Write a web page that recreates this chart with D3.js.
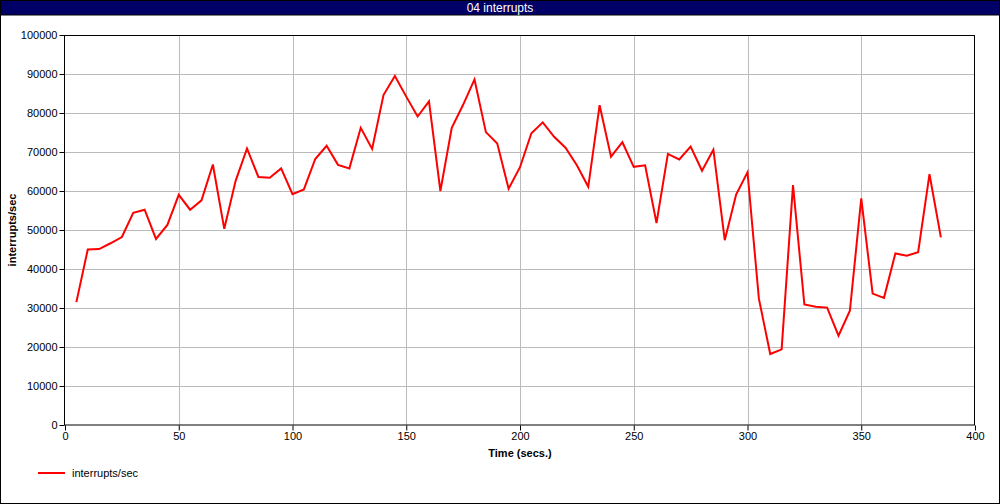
<!DOCTYPE html>
<html><head><meta charset="utf-8">
<script src="https://cdn.jsdelivr.net/npm/d3@7"></script>
<style>
html,body{margin:0;padding:0;background:#fff;}
svg{display:block;}
text{font-family:"Liberation Sans",Arial,Helvetica,sans-serif;}
</style></head><body>
<script>
const title = "04 interrupts";
const seriesName = "interrupts/sec";
const xLabel = "Time (secs.)";
const yLabel = "interrupts/sec";
const times = [5,10,15,20,25,30,35,40,45,50,55,60,65,70,75,80,85,90,95,100,105,110,115,120,125,130,135,140,145,150,155,160,165,170,175,180,185,190,195,200,205,210,215,220,225,230,235,240,245,250,255,260,265,270,275,280,285,290,295,300,305,310,315,320,325,330,335,340,345,350,355,360,365,370,375,380,385];
const values = [31500,45000,45100,46600,48200,54400,55200,47700,51300,59000,55200,57600,66800,50300,62600,70900,63600,63400,65800,59200,60400,68200,71600,66700,65800,76200,70800,84600,89500,84200,79100,83000,60000,76200,82100,88600,75100,72200,60600,66100,74800,77600,73900,71100,66600,61100,82000,68800,72500,66200,66600,51800,69500,68100,71400,65200,70600,47400,59100,64800,32400,18200,19400,61500,30900,30300,30100,22900,29300,58100,33700,32600,44000,43400,44300,64300,48100];
const xTicks = [0,50,100,150,200,250,300,350,400];
const yTicks = [0,10000,20000,30000,40000,50000,60000,70000,80000,90000,100000];

const W=1000,H=504;
const svg=d3.select("body").append("svg").attr("width",W).attr("height",H);
svg.append("rect").attr("x",0.5).attr("y",0.5).attr("width",W-1).attr("height",H-1).attr("fill","#fff").attr("stroke","#000");
svg.append("rect").attr("x",0.5).attr("y",0.5).attr("width",W-1).attr("height",14.5).attr("fill","#000066").attr("stroke","#000");
svg.append("text").attr("x",500).attr("y",12).attr("text-anchor","middle").attr("fill","#fff").attr("font-size",12).text(title);

const x=d3.scaleLinear().domain([0,400]).range([65,975]);
const y=d3.scaleLinear().domain([0,100000]).range([425,35]);

const g=svg.append("g");
// grid
g.selectAll(".vg").data(xTicks.slice(1,-1)).enter().append("line")
 .attr("x1",d=>Math.round(x(d))+0.5).attr("x2",d=>Math.round(x(d))+0.5).attr("y1",35).attr("y2",425)
 .attr("stroke","#bbbbbb");
g.selectAll(".hg").data(yTicks.slice(1,-1)).enter().append("line")
 .attr("y1",d=>Math.round(y(d))+0.5).attr("y2",d=>Math.round(y(d))+0.5).attr("x1",65).attr("x2",975)
 .attr("stroke","#bbbbbb");
// frame
g.append("rect").attr("x",64.5).attr("y",35.5).attr("width",910).attr("height",389.5).attr("fill","none").attr("stroke","#000");

const xAxis=d3.axisBottom(x).tickValues(xTicks).tickSize(5).tickPadding(2).tickFormat(d3.format("d"));
const gx=svg.append("g").attr("transform","translate(0,425.5)").call(xAxis);
gx.select(".domain").remove();
gx.selectAll("text").attr("font-size",11).attr("font-family","Liberation Sans,Arial,sans-serif").attr("fill","#000");
gx.selectAll("line").attr("stroke","#000");
const yAxis=d3.axisLeft(y).tickValues(yTicks).tickSize(5).tickPadding(2).tickFormat(d3.format("d"));
const gy=svg.append("g").attr("transform","translate(64.5,0)").call(yAxis);
gy.select(".domain").remove();
gy.selectAll("text").attr("font-size",11).attr("font-family","Liberation Sans,Arial,sans-serif").attr("fill","#000");
gy.selectAll("line").attr("stroke","#000");

svg.append("text").attr("x",520).attr("y",457).attr("text-anchor","middle").attr("font-size",11).attr("font-weight","bold").text(xLabel);
svg.append("text").attr("transform","translate(16,230) rotate(-90)").attr("text-anchor","middle").attr("font-size",11).attr("font-weight","bold").text(yLabel);

const data=times.map((t,i)=>({t,v:values[i]}));
const line=d3.line().x(d=>x(d.t)).y(d=>y(d.v));
svg.append("path").datum(data).attr("d",line).attr("fill","none").attr("stroke","#ff0000").attr("stroke-width",2).attr("stroke-linejoin","miter");

svg.append("line").attr("x1",38).attr("x2",65).attr("y1",473).attr("y2",473).attr("stroke","#ff0000").attr("stroke-width",2);
svg.append("text").attr("x",72).attr("y",477).attr("font-size",11).text(seriesName);
</script>
</body></html>
